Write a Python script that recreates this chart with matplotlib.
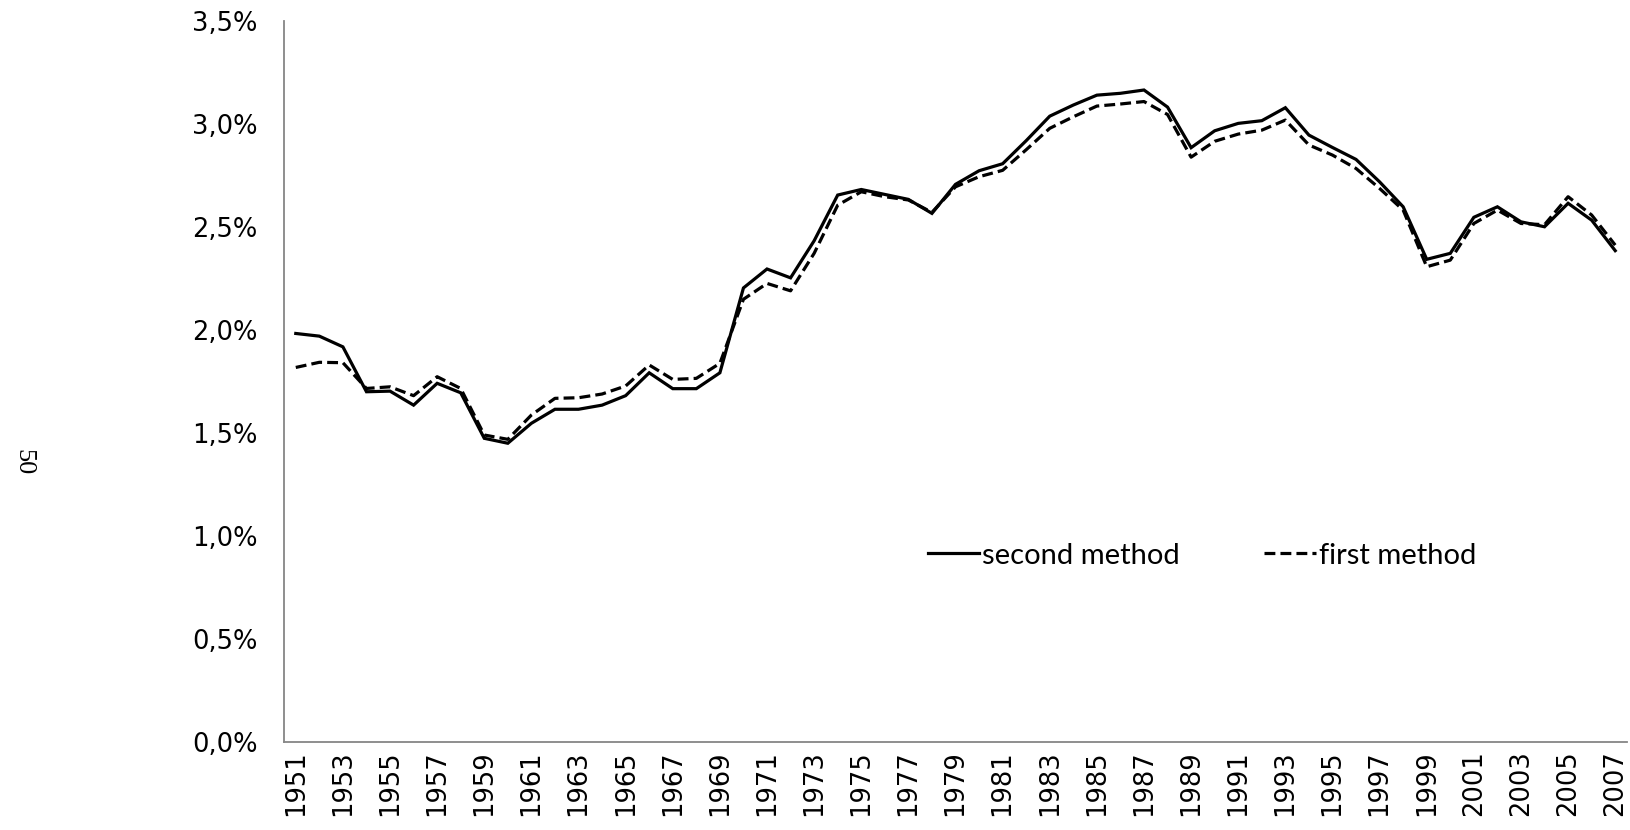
import matplotlib
matplotlib.use("Agg")
import matplotlib.pyplot as plt
from matplotlib.ticker import FuncFormatter

years = list(range(1951, 2008))

second_method = [
    1.982, 1.969, 1.917, 1.699, 1.702, 1.634, 1.740, 1.694, 1.473, 1.449,
    1.546, 1.614, 1.614, 1.634, 1.680, 1.791, 1.714, 1.714, 1.791, 2.203,
    2.295, 2.252, 2.432, 2.654, 2.681, 2.657, 2.633, 2.565, 2.706, 2.772,
    2.806, 2.918, 3.037, 3.091, 3.139, 3.148, 3.164, 3.081, 2.884, 2.966,
    3.002, 3.015, 3.078, 2.945, 2.885, 2.827, 2.718, 2.597, 2.342, 2.371,
    2.546, 2.597, 2.524, 2.500, 2.614, 2.532, 2.384,
]

first_method = [
    1.817, 1.842, 1.840, 1.715, 1.723, 1.680, 1.772, 1.715, 1.489, 1.468,
    1.586, 1.667, 1.670, 1.688, 1.727, 1.829, 1.759, 1.764, 1.837, 2.148,
    2.225, 2.189, 2.371, 2.605, 2.670, 2.646, 2.630, 2.570, 2.694, 2.743,
    2.774, 2.874, 2.978, 3.034, 3.086, 3.096, 3.108, 3.045, 2.838, 2.915,
    2.950, 2.969, 3.018, 2.897, 2.848, 2.783, 2.686, 2.581, 2.306, 2.338,
    2.516, 2.581, 2.516, 2.510, 2.646, 2.557, 2.411,
]

series_labels = ["second method", "first method"]
page_number = "50"

fig = plt.figure(figsize=(16.31, 8.30), dpi=100)
ax = fig.add_axes([284 / 1631, 1 - 741.7 / 830, (1627 - 284) / 1631, (741.7 - 20.8) / 830])

x = list(range(len(years)))
ax.plot(x, second_method, color="black", lw=2.3, solid_joinstyle="miter",
        label=series_labels[0])
ax.plot(x, first_method, color="black", lw=2.3, linestyle=(0, (3.4, 1.6)),
        label=series_labels[1])

ax.set_xlim(-0.5, len(years) - 0.5)
ax.set_ylim(0, 3.5)
ax.set_yticks([0, 0.5, 1.0, 1.5, 2.0, 2.5, 3.0, 3.5])
ax.yaxis.set_major_formatter(FuncFormatter(lambda v, p: f"{v:.1f}%".replace(".", ",")))
ax.set_xticks(x[::2])
ax.set_xticklabels([str(y) for y in years[::2]], rotation=90)

for s in ["top", "right"]:
    ax.spines[s].set_visible(False)
for s in ["left", "bottom"]:
    ax.spines[s].set_color("#868686")
    ax.spines[s].set_linewidth(1.3)

ax.tick_params(axis="both", length=0, labelsize=18.5, colors="black")
ax.tick_params(axis="y", pad=19)
ax.tick_params(axis="x", pad=6)
for lab in ax.get_xticklabels() + ax.get_yticklabels():
    lab.set_family("DejaVu Sans")

leg = ax.legend(ncol=2, loc="center",
                bbox_to_anchor=((1202 - 284) / (1627 - 284), (741.7 - 555.5) / (741.7 - 20.8)),
                frameon=False, handlelength=1.75, handletextpad=0.12, columnspacing=2.9,
                prop={"family": "Lato", "size": 21})

fig.text(23 / 1631, 1 - 462 / 830, page_number, rotation=-90, ha="center", va="center",
         fontsize=19, family="Liberation Serif")

fig.savefig("out.png", dpi=100, facecolor="white")
